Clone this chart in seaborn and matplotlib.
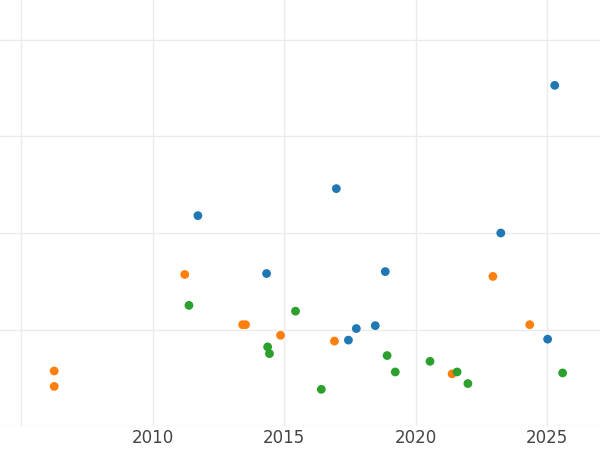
import matplotlib
matplotlib.use("Agg")
import matplotlib.pyplot as plt
import seaborn as sns
import pandas as pd

# values (y in arbitrary grid units)
blue_x = [2011.72, 2014.33, 2016.98, 2017.44, 2017.74, 2018.46, 2018.84, 2023.23, 2025.01, 2025.28]
blue_y = [2.18, 1.58, 2.46, 0.89, 1.01, 1.04, 1.60, 2.00, 0.90, 3.53]
orange_x = [2006.26, 2006.26, 2011.22, 2013.42, 2013.53, 2014.86, 2016.91, 2021.38, 2022.93, 2024.33]
orange_y = [0.57, 0.41, 1.57, 1.05, 1.05, 0.94, 0.88, 0.54, 1.55, 1.05]
green_x = [2011.38, 2014.37, 2014.44, 2015.43, 2016.41, 2018.91, 2019.22, 2020.54, 2021.57, 2021.98, 2025.58]
green_y = [1.25, 0.82, 0.75, 1.19, 0.38, 0.73, 0.56, 0.67, 0.56, 0.44, 0.55]

df = pd.DataFrame({
    "year": blue_x + orange_x + green_x,
    "value": blue_y + orange_y + green_y,
    "group": ["a"] * len(blue_x) + ["b"] * len(orange_x) + ["c"] * len(green_x),
})

sns.set_theme(style="whitegrid", rc={"grid.color": "#ebebeb", "grid.linewidth": 1.0})
fig = plt.figure(figsize=(6, 4.5), dpi=100)
ax = fig.add_axes([0, 24 / 450, 1, 426 / 450])
sns.scatterplot(data=df, x="year", y="value", hue="group",
                palette=["#1f77b4", "#ff7f0e", "#2ca02c"], s=40,
                edgecolor="none", legend=False, ax=ax)
ax.set_xlim(2004.2, 2027.0)
ax.set_ylim(0, 426 / 96.5)
ax.set_xticks([2005, 2010, 2015, 2020, 2025])
ax.set_xticklabels(["", "2010", "2015", "2020", "2025"])
ax.set_yticks([0, 1, 2, 3, 4])
ax.set_yticklabels([])
ax.tick_params(axis="x", labelsize=12, colors="#444444", pad=-4)
ax.set_xlabel("")
ax.set_ylabel("")
for s in ax.spines.values():
    s.set_visible(False)
fig.savefig("out.png")
